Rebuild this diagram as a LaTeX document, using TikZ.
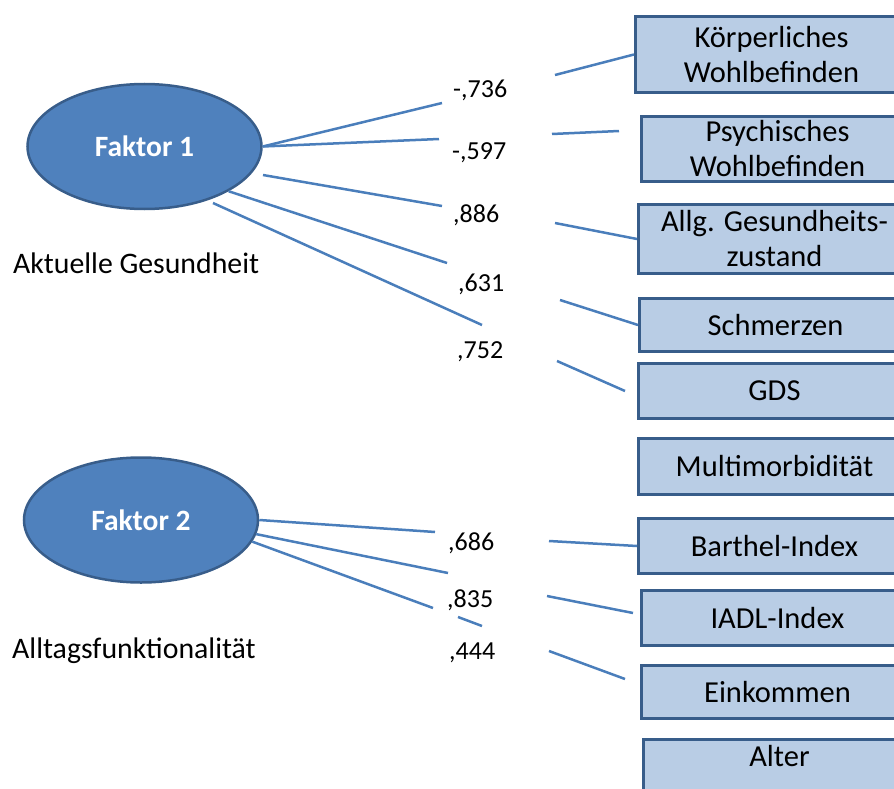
\documentclass[tikz,border=0pt]{standalone}
\usepackage{fontspec}
\setmainfont{Carlito}
\usetikzlibrary{shapes.geometric}

\definecolor{accblue}{HTML}{4F81BD}
\definecolor{accdark}{HTML}{385D8A}
\definecolor{acclight}{HTML}{B9CDE5}
\definecolor{linkblue}{HTML}{4A7EBB}

\tikzset{
  factor/.style={ellipse, draw=accdark, line width=2.5pt, fill=accblue,
    minimum width=234pt, minimum height=125pt, inner sep=0pt, text=white,
    font=\fontsize{29.5}{35}\selectfont\bfseries},
  itembox/.style={rectangle, draw=accdark, line width=3pt, fill=acclight,
    anchor=north west, minimum width=272pt, inner sep=0pt, align=center,
    font=\fontsize{30.5}{35}\selectfont},
  loading/.style={anchor=base west, inner sep=0pt, font=\fontsize{26}{30}\selectfont},
  caption/.style={anchor=base west, inner sep=0pt, font=\fontsize{29.8}{35}\selectfont},
  link/.style={draw=linkblue, line width=2.5pt},
}

\begin{document}
\begin{tikzpicture}[x=1pt, y=-1pt]
  \useasboundingbox (0,0) rectangle (894,789);
  \clip (0,0) rectangle (894,789);

  % factors
  \node[factor] (f1) at (144.5,146.5) {Faktor 1};
  \node[factor] (f2) at (141,520) {Faktor 2};
  \node[caption] (c1) at (13,273) {Aktuelle Gesundheit};
  \node[caption] (c2) at (12,658) {Alltagsfunktionalität};

  % items
  \node[itembox, minimum height=76pt] (b1) at (634,15) {Körperliches\\Wohlbefinden};
  \node[itembox, minimum height=65pt] (b2) at (640,115) {Psychisches\\Wohlbefinden};
  \node[itembox, minimum height=69pt] (b3) at (637,203) {Allg. Gesundheits-\\zustand};
  \node[itembox, minimum height=53pt] (b4) at (638,297) {Schmerzen};
  \node[itembox, minimum height=55pt] (b5) at (637,362) {GDS};
  \node[itembox, minimum height=56pt] (b6) at (637,437) {Multimorbidität};
  \node[itembox, minimum height=55pt] (b7) at (637,517) {Barthel-Index};
  \node[itembox, minimum height=55pt] (b8) at (640,589) {IADL-Index};
  \node[itembox, minimum height=53pt] (b9) at (640,664) {Einkommen};
  \node[itembox, inner ysep=5.5pt, text height=21pt, text depth=40pt] (b10) at (642,738) {Alter};

  % loadings
  \node[loading] (l1) at (453,98) {-,736};
  \node[loading] (l2) at (452,160) {-,597};
  \node[loading] (l3) at (453,222) {,886};
  \node[loading] (l4) at (458,291) {,631};
  \node[loading] (l5) at (457,358) {,752};
  \node[loading] (l6) at (448,550) {,686};
  \node[loading] (l7) at (447,607) {,835};
  \node[loading] (l8) at (449,659) {,444};

  % free ends
  \coordinate (p1) at (442,103);
  \coordinate (q1) at (555,75);
  \coordinate (p2) at (439,139);
  \coordinate (q2) at (552,134);
  \coordinate (r2) at (619,131);
  \coordinate (s3) at (263,175);
  \coordinate (p3) at (442,206);
  \coordinate (q3) at (555,223);
  \coordinate (p4) at (447,263);
  \coordinate (q4) at (560,300);
  \coordinate (s5) at (213,203);
  \coordinate (p5) at (482,325);
  \coordinate (q5) at (557,361);
  \coordinate (r5) at (625,391);
  \coordinate (p6) at (435,532);
  \coordinate (q6) at (549,541);
  \coordinate (p7) at (448,573);
  \coordinate (q7) at (547,596);
  \coordinate (r7) at (633,613);
  \coordinate (p8) at (433,608);
  \coordinate (m8) at (458,617);
  \coordinate (n8) at (482,626);
  \coordinate (q8) at (549,651);
  \coordinate (r8) at (625,679);

  \draw[link] (f1.east)--(p1);
  \draw[link] (q1)--(b1.west);
  \draw[link] (f1.east)--(p2);
  \draw[link] (q2)--(r2);
  \draw[link] (s3)--(p3);
  \draw[link] (q3)--(b3.west);
  \draw[link] (f1.-28)--(p4);
  \draw[link] (q4)--(b4.west);
  \draw[link] (s5)--(p5);
  \draw[link] (q5)--(r5);

  \draw[link] (f2.east)--(p6);
  \draw[link] (q6)--(b7.west);
  \draw[link] (f2.-7)--(p7);
  \draw[link] (q7)--(r7);
  \draw[link] (f2.-11)--(p8);
  \draw[link] (m8)--(n8);
  \draw[link] (q8)--(r8);
\end{tikzpicture}
\end{document}
